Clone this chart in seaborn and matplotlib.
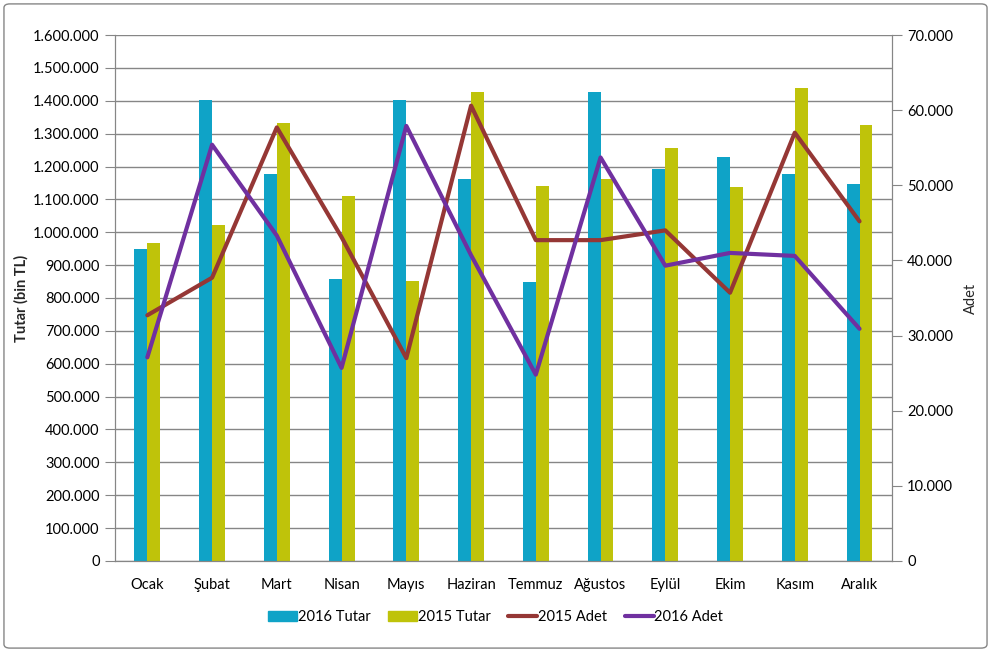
import numpy as np
import pandas as pd
import matplotlib
matplotlib.use("Agg")
import matplotlib.pyplot as plt
import matplotlib.ticker as mticker
from matplotlib.patches import Patch, FancyBboxPatch
from matplotlib.lines import Line2D
import seaborn as sns

months = ["Ocak", "Şubat", "Mart", "Nisan", "Mayıs", "Haziran",
          "Temmuz", "Ağustos", "Eylül", "Ekim", "Kasım", "Aralık"]
tutar_2016 = [948000, 1402000, 1178000, 858000, 1402000, 1163000,
              849000, 1427000, 1191000, 1228000, 1178000, 1148000]
tutar_2015 = [967000, 1022000, 1333000, 1111000, 852000, 1427000,
              1141000, 1162000, 1257000, 1138000, 1439000, 1327000]
adet_2015 = [32700, 37700, 57700, 43100, 27000, 60600,
             42700, 42700, 44000, 35700, 57000, 45200]
adet_2016 = [27100, 55400, 43300, 25700, 57900, 40700,
             24800, 53700, 39300, 41000, 40600, 30900]

c16, c15 = "#0fa3c7", "#bfc30a"
red, purple = "#953735", "#7030a0"
grid_c = "#868686"

sns.set_style("white")
plt.rcParams["font.family"] = ["Lato", "DejaVu Sans"]
plt.rcParams["text.color"] = "black"

bars = pd.DataFrame({
    "Ay": months * 2,
    "Tutar": tutar_2016 + tutar_2015,
    "Seri": ["2016 Tutar"] * 12 + ["2015 Tutar"] * 12,
})
lines = pd.DataFrame({"pos": range(len(months)), "a15": adet_2015, "a16": adet_2016})

fig = plt.figure(figsize=(9.91, 6.52), dpi=100)
ax = fig.add_axes([0.116, 0.1396, 0.784, 0.8067])
sns.barplot(data=bars, x="Ay", y="Tutar", hue="Seri", palette=[c16, c15],
            width=0.4, gap=0, saturation=1, legend=False, ax=ax,
            edgecolor="none", linewidth=0)
ax.set_ylim(0, 1600000)
ax.set_xlim(-0.5, 11.5)
ax.yaxis.set_major_locator(mticker.MultipleLocator(100000))
fmt = mticker.FuncFormatter(lambda v, p: f"{int(round(v)):,}".replace(",", "."))
ax.yaxis.set_major_formatter(fmt)
ax.grid(axis="y", color=grid_c, lw=1)
ax.set_axisbelow(True)
ax.set_xlabel("")
ax.set_ylabel("Tutar (bin TL)", fontsize=10.5, fontweight="bold", labelpad=3)
ax.tick_params(axis="y", direction="out", length=7, color=grid_c, labelsize=10.5,
               pad=4, labelcolor="black")
ax.tick_params(axis="x", length=0, labelsize=10.5, pad=12, labelcolor="black")
for s in ["left", "bottom", "right"]:
    ax.spines[s].set_color(grid_c)
ax.spines["top"].set_visible(False)

ax2 = ax.twinx()
sns.lineplot(data=lines, x="pos", y="a15", color=red, lw=3, ax=ax2,
             solid_capstyle="round", solid_joinstyle="round")
sns.lineplot(data=lines, x="pos", y="a16", color=purple, lw=3, ax=ax2,
             solid_capstyle="round", solid_joinstyle="round")
ax2.set_ylim(0, 70000)
ax2.set_xlim(-0.5, 11.5)
ax2.yaxis.set_major_locator(mticker.MultipleLocator(10000))
ax2.yaxis.set_major_formatter(fmt)
ax2.set_xlabel("")
ax2.set_ylabel("Adet", fontsize=10.5, rotation=90, labelpad=8)
ax2.tick_params(axis="y", direction="out", length=7, color=grid_c, labelsize=10.5,
                pad=4, labelcolor="black")
for s in ["left", "bottom", "right"]:
    ax2.spines[s].set_color(grid_c)
ax2.spines["top"].set_visible(False)

handles = [
    Patch(color=c16, label="2016 Tutar"),
    Patch(color=c15, label="2015 Tutar"),
    Line2D([], [], color=red, lw=3, solid_capstyle="round", label="2015 Adet"),
    Line2D([], [], color=purple, lw=3, solid_capstyle="round", label="2016 Adet"),
]
fig.legend(handles=handles, loc="center", bbox_to_anchor=(0.5, 0.054), ncol=4,
           frameon=False, fontsize=10.5, handlelength=2.0, handleheight=0.7,
           handletextpad=0.05, columnspacing=1.2)

fig.patches.append(FancyBboxPatch((0.004, 0.006), 0.992, 0.988,
                                  boxstyle="round,pad=0,rounding_size=0.006",
                                  transform=fig.transFigure, fill=False,
                                  edgecolor=grid_c, lw=1))

fig.savefig("out.png", dpi=100)
